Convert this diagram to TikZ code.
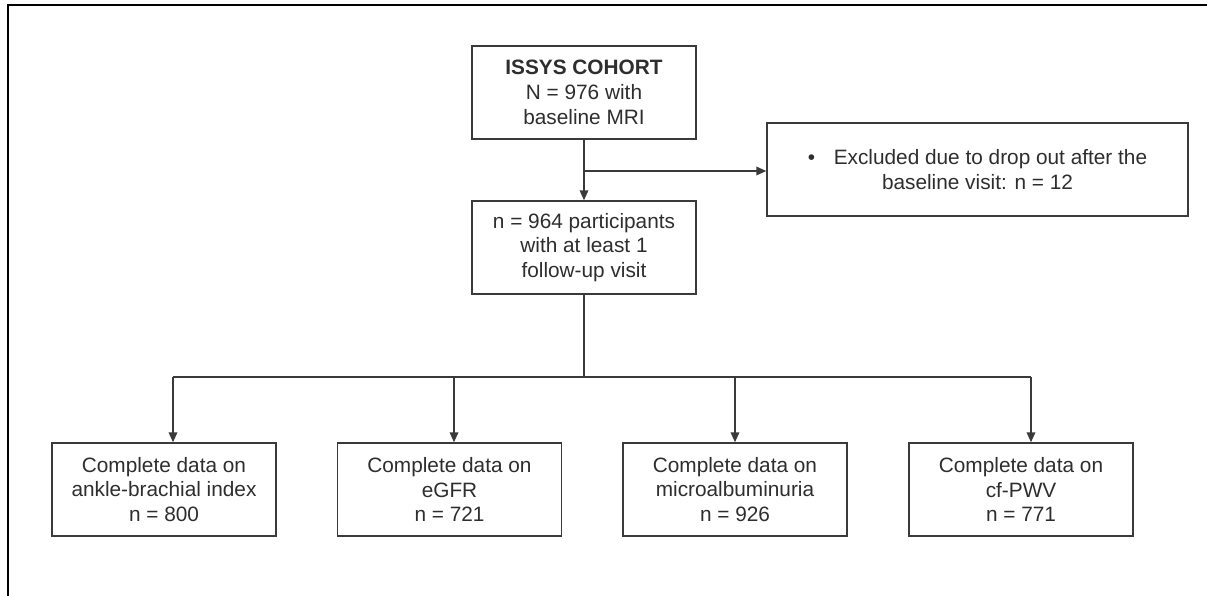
\documentclass[tikz,border=0pt]{standalone}
\usepackage{fontspec}
\setmainfont{Liberation Sans}
\usetikzlibrary{arrows.meta}
\definecolor{linegray}{HTML}{3A3A3A}
\definecolor{textgray}{HTML}{2E2E2E}
\tikzset{
  box/.style={draw=linegray,line width=1.1pt,fill=white,text=textgray,align=center,
    minimum width=168pt,minimum height=69.75pt,inner sep=0pt,
    font=\fontsize{15.6}{18.6}\selectfont},
  widebox/.style={box,minimum width=315.75pt},
  link/.style={draw=linegray,line width=1.1pt},
  arr/.style={link,-{Triangle[width=6.5pt,length=7.5pt]}}
}
\begin{document}
\begin{tikzpicture}[x=0.75pt,y=-0.75pt]

\useasboundingbox (0,0) rectangle (1207,596);
\draw [line width=1.6pt] (8,596) -- (8,5) -- (1207,5);

\node [box] (cohort) at (584,92.5) {\textbf{ISSYS COHORT}\\N = 976 with\\baseline MRI};
\node [widebox] (excl) at (977.5,169.5) {\textbullet\hspace{14pt}Excluded due to drop out after the\\baseline visit: n = 12};
\node [box] (part) at (584,247.5) {n = 964 participants\\with at least 1\\follow-up visit};
\node [box] (abi) at (164,489.5) {Complete data on\\ankle-brachial index\\n = 800};
\node [box] (egfr) at (449.5,489.5) {Complete data on\\eGFR\\n = 721};
\node [box] (malb) at (735,489.5) {Complete data on\\microalbuminuria\\n = 926};
\node [box] (pwv) at (1021,489.5) {Complete data on\\cf-PWV\\n = 771};

\coordinate (split) at (584,171);
\coordinate (bus) at (584,377);
\coordinate (drop1) at (173,377);
\coordinate (drop2) at (454,377);
\coordinate (drop3) at (735,377);
\coordinate (drop4) at (1031,377);

\draw [arr] (cohort.south) -- (part.north);
\draw [arr] (split) -- (split -| excl.west);
\draw [link] (part.south) -- (bus);
\draw [link] (drop1) -- (drop4);
\draw [arr] (drop1) -- (drop1 |- abi.north);
\draw [arr] (drop2) -- (drop2 |- egfr.north);
\draw [arr] (drop3) -- (drop3 |- malb.north);
\draw [arr] (drop4) -- (drop4 |- pwv.north);


\end{tikzpicture}
\end{document}
